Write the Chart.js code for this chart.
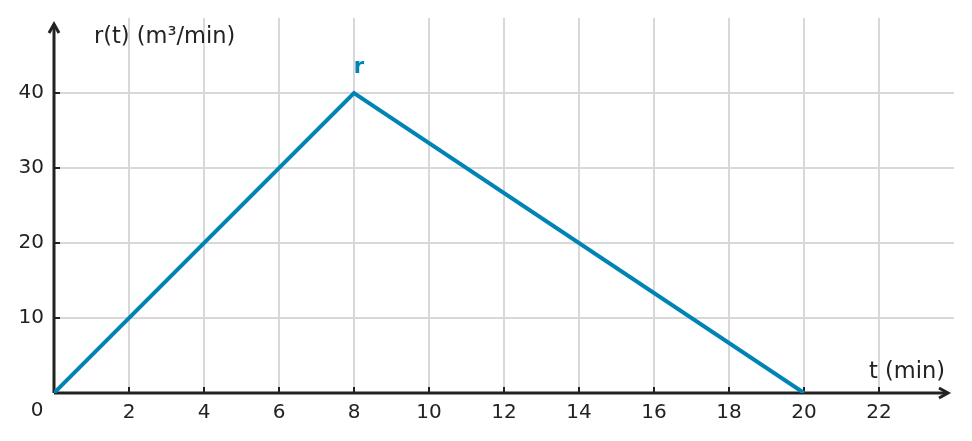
<!DOCTYPE html>
<html>
<head>
<meta charset="utf-8">
<script src="https://cdn.jsdelivr.net/npm/chart.js@4"></script>
<style>
  html, body { margin: 0; padding: 0; background: #fff; }
  #wrap { width: 972px; height: 441px; }
</style>
</head>
<body>
<div id="wrap"><canvas id="rateChart"></canvas></div>
<script>
// data
const tValues = [0, 8, 20];
const rValues = [0, 40, 0];
const xTickValues = [2, 4, 6, 8, 10, 12, 14, 16, 18, 20, 22];
const yTickValues = [10, 20, 30, 40];
const xRange = [0, 24];
const yRange = [0, 50];
const seriesName = 'r';
const yTitle = 'r(t) (m³/min)';
const xTitle = 't (min)';

const FONT = "'DejaVu Sans', sans-serif";
const INK = '#222';
const BLUE = '#0083b5';

const axesPlugin = {
    id: 'axes',
    beforeDatasetsDraw(chart) {
        const ctx = chart.ctx;
        const x = chart.scales.x, y = chart.scales.y;
        const x0 = x.getPixelForValue(0), y0 = y.getPixelForValue(0);
        ctx.save();
        ctx.strokeStyle = INK;
        ctx.lineWidth = 3;
        // y axis with arrow
        ctx.beginPath();
        ctx.moveTo(x0, y0);
        ctx.lineTo(x0, chart.chartArea.top + 6);
        ctx.stroke();
        ctx.beginPath();
        ctx.moveTo(x0 - 5, chart.chartArea.top + 15);
        ctx.lineTo(x0, chart.chartArea.top + 6);
        ctx.lineTo(x0 + 5, chart.chartArea.top + 15);
        ctx.stroke();
        // x axis with arrow
        const xEnd = chart.chartArea.right - 6;
        ctx.beginPath();
        ctx.moveTo(x0, y0);
        ctx.lineTo(xEnd, y0);
        ctx.stroke();
        ctx.beginPath();
        ctx.moveTo(xEnd - 9, y0 - 5);
        ctx.lineTo(xEnd, y0);
        ctx.lineTo(xEnd - 9, y0 + 5);
        ctx.stroke();
        // tick marks
        ctx.lineWidth = 2;
        xTickValues.forEach(v => {
            const px = x.getPixelForValue(v);
            ctx.beginPath();
            ctx.moveTo(px, y0);
            ctx.lineTo(px, y0 - 6);
            ctx.stroke();
        });
        yTickValues.forEach(v => {
            const py = y.getPixelForValue(v);
            ctx.beginPath();
            ctx.moveTo(x0, py);
            ctx.lineTo(x0 + 6, py);
            ctx.stroke();
        });
        ctx.restore();
    },
    afterDraw(chart) {
        const ctx = chart.ctx;
        const x = chart.scales.x, y = chart.scales.y;
        const x0 = x.getPixelForValue(0), y0 = y.getPixelForValue(0);
        ctx.save();
        ctx.fillStyle = INK;
        ctx.font = '20px ' + FONT;
        ctx.textAlign = 'center';
        ctx.textBaseline = 'middle';
        ctx.fillText('0', x0 - 17, y0 + 18);
        ctx.font = '22.5px ' + FONT;
        ctx.textAlign = 'left';
        ctx.fillText(yTitle, x0 + 40, chart.chartArea.top + 19);
        ctx.textAlign = 'right';
        ctx.fillText(xTitle, chart.chartArea.right - 9, y0 - 21);
        // series label above the peak
        const peak = rValues.indexOf(Math.max(...rValues));
        ctx.fillStyle = BLUE;
        ctx.font = 'bold 21px ' + FONT;
        ctx.textAlign = 'center';
        ctx.fillText(seriesName, x.getPixelForValue(tValues[peak]) + 5, y.getPixelForValue(rValues[peak]) - 25);
        ctx.restore();
    }
};

const gridColor = (ctx, edges) =>
    edges.includes(ctx.tick.value) ? 'rgba(0,0,0,0)' : '#d8d8d8';

new Chart(document.getElementById('rateChart'), {
    type: 'line',
    data: {
        datasets: [{
            label: seriesName,
            data: tValues.map((t, i) => ({ x: t, y: rValues[i] })),
            borderColor: BLUE,
            borderWidth: 4,
            pointRadius: 0,
            tension: 0,
            fill: false
        }]
    },
    options: {
        responsive: true,
        maintainAspectRatio: false,
        animation: false,
        layout: { padding: { top: 18, right: 18, left: 0, bottom: 0 } },
        plugins: { legend: { display: false }, tooltip: { enabled: false } },
        scales: {
            x: {
                type: 'linear',
                min: xRange[0],
                max: xRange[1],
                border: { display: false },
                grid: {
                    color: ctx => gridColor(ctx, xRange),
                    lineWidth: 2,
                    drawTicks: false
                },
                ticks: {
                    stepSize: 2,
                    color: INK,
                    font: { family: FONT, size: 20 },
                    padding: 8,
                    callback: v => (v === 0 || v === 24 ? null : v)
                },
                afterFit: s => { s.height = 48; s.paddingLeft = 0; s.paddingRight = 0; }
            },
            y: {
                min: yRange[0],
                max: yRange[1],
                border: { display: false },
                grid: {
                    color: ctx => gridColor(ctx, yRange),
                    lineWidth: 2,
                    drawTicks: false
                },
                ticks: {
                    stepSize: 10,
                    color: INK,
                    font: { family: FONT, size: 20 },
                    padding: 10,
                    callback: v => (v === 0 || v === 50 ? null : v)
                },
                afterFit: s => { s.width = 54; s.paddingTop = 0; s.paddingBottom = 0; }
            }
        }
    },
    plugins: [axesPlugin]
});
</script>
</body>
</html>
